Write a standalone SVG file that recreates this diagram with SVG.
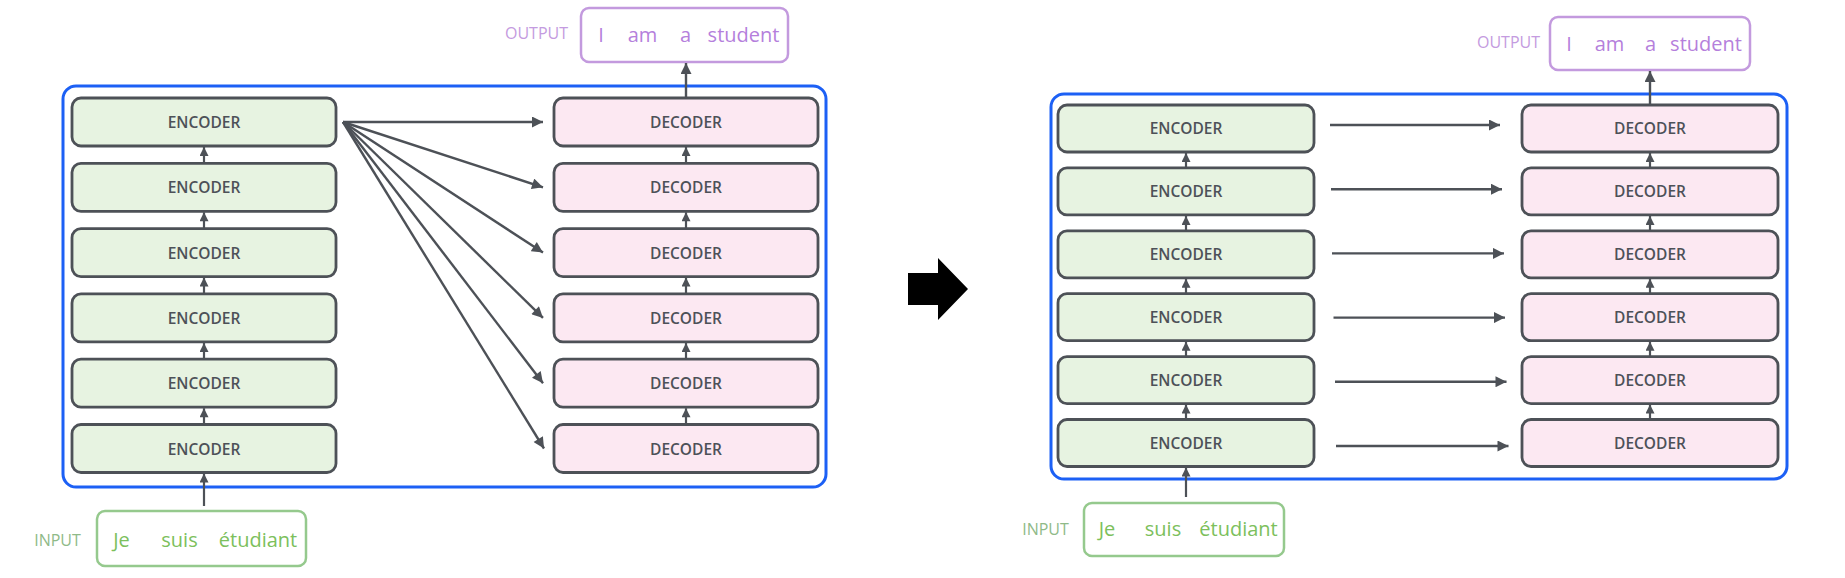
<svg xmlns="http://www.w3.org/2000/svg" width="1845" height="578" viewBox="0 0 1845 578">
<style>
.enc{fill:#e7f3e1;stroke:#4d5157;stroke-width:2.8}
.dec{fill:#fce8f2;stroke:#4d5157;stroke-width:2.8}
.lbl{font-family:"Open Sans","Liberation Sans",sans-serif;font-size:15.5px;font-weight:600;fill:#4d5158;text-anchor:middle}
.blue{fill:none;stroke:#1c60f5;stroke-width:3}
.outbox{fill:#fff;stroke:#c39ade;stroke-width:2.5}
.inbox{fill:#fff;stroke:#95c98d;stroke-width:2.5}
.outw{font-family:"Open Sans","Liberation Sans",sans-serif;font-size:20px;fill:#b57fdc;text-anchor:middle}
.inw{font-family:"Open Sans","Liberation Sans",sans-serif;font-size:20px;fill:#7cc05c;text-anchor:middle}
.outl{font-family:"Open Sans","Liberation Sans",sans-serif;font-size:16px;fill:#c49be0;text-anchor:middle}
.inl{font-family:"Open Sans","Liberation Sans",sans-serif;font-size:16px;fill:#8fba88;text-anchor:middle}
.c{stroke:#4d5157;stroke-width:2.4;fill:none}
.v{stroke:#4d5157;stroke-width:2.2;fill:none;marker-end:url(#sm)}
.h{stroke:#4d5157;stroke-width:2.4;fill:none;marker-end:url(#ah)}
</style>
<defs>
<marker id="ah" viewBox="0 0 10 10" refX="10" refY="5" markerUnits="userSpaceOnUse" markerWidth="12" markerHeight="11" orient="auto"><path d="M0,0 L10,5 L0,10 z" fill="#4d5157"/></marker>
<marker id="sm" viewBox="0 0 10 10" refX="10" refY="5" markerUnits="userSpaceOnUse" markerWidth="10" markerHeight="9" orient="auto"><path d="M0,0 L10,5 L0,10 z" fill="#4d5157"/></marker>
</defs>

<!-- LEFT DIAGRAM -->
<g id="left-container"><rect class="blue" x="63" y="86" width="763" height="401" rx="13"/></g>

<g id="left-output"><rect class="outbox" x="581" y="8" width="207" height="54" rx="8"/>
<text class="outl" x="536.5" y="39">OUTPUT</text>
<text class="outw" x="601" y="42">I</text><text class="outw" x="642.5" y="42">am</text><text class="outw" x="685.5" y="42">a</text><text class="outw" x="743.5" y="42">student</text></g>

<g id="left-input"><rect class="inbox" x="97" y="511" width="209" height="55" rx="8"/>
<text class="inl" x="57.5" y="546">INPUT</text>
<text class="inw" x="121.5" y="547">Je</text><text class="inw" x="179.5" y="547">suis</text><text class="inw" x="258" y="547">étudiant</text></g>

<g id="left-enc1"><rect class="enc" x="72" y="98" width="264" height="48" rx="9"/><text class="lbl" x="204" y="128">ENCODER</text></g>
<g id="left-enc2"><rect class="enc" x="72" y="163.3" width="264" height="48" rx="9"/><text class="lbl" x="204" y="193.3">ENCODER</text></g>
<g id="left-enc3"><rect class="enc" x="72" y="228.6" width="264" height="48" rx="9"/><text class="lbl" x="204" y="258.6">ENCODER</text></g>
<g id="left-enc4"><rect class="enc" x="72" y="293.9" width="264" height="48" rx="9"/><text class="lbl" x="204" y="323.9">ENCODER</text></g>
<g id="left-enc5"><rect class="enc" x="72" y="359.2" width="264" height="48" rx="9"/><text class="lbl" x="204" y="389.2">ENCODER</text></g>
<g id="left-enc6"><rect class="enc" x="72" y="424.5" width="264" height="48" rx="9"/><text class="lbl" x="204" y="454.5">ENCODER</text></g>

<g id="left-dec1"><rect class="dec" x="554" y="98" width="264" height="48" rx="9"/><text class="lbl" x="686" y="128">DECODER</text></g>
<g id="left-dec2"><rect class="dec" x="554" y="163.3" width="264" height="48" rx="9"/><text class="lbl" x="686" y="193.3">DECODER</text></g>
<g id="left-dec3"><rect class="dec" x="554" y="228.6" width="264" height="48" rx="9"/><text class="lbl" x="686" y="258.6">DECODER</text></g>
<g id="left-dec4"><rect class="dec" x="554" y="293.9" width="264" height="48" rx="9"/><text class="lbl" x="686" y="323.9">DECODER</text></g>
<g id="left-dec5"><rect class="dec" x="554" y="359.2" width="264" height="48" rx="9"/><text class="lbl" x="686" y="389.2">DECODER</text></g>
<g id="left-dec6"><rect class="dec" x="554" y="424.5" width="264" height="48" rx="9"/><text class="lbl" x="686" y="454.5">DECODER</text></g>

<g id="left-connectors">
<line class="v" x1="204" y1="506" x2="204" y2="473.5"/>
<line class="v" x1="204" y1="424.5" x2="204" y2="408.2"/>
<line class="v" x1="204" y1="359.2" x2="204" y2="342.9"/>
<line class="v" x1="204" y1="293.9" x2="204" y2="277.6"/>
<line class="v" x1="204" y1="228.6" x2="204" y2="212.3"/>
<line class="v" x1="204" y1="163.3" x2="204" y2="147"/>
<line class="v" x1="686" y1="424.5" x2="686" y2="408.2"/>
<line class="v" x1="686" y1="359.2" x2="686" y2="342.9"/>
<line class="v" x1="686" y1="293.9" x2="686" y2="277.6"/>
<line class="v" x1="686" y1="228.6" x2="686" y2="212.3"/>
<line class="v" x1="686" y1="163.3" x2="686" y2="147"/>
<line class="h" x1="686" y1="98" x2="686" y2="63"/>
<line class="h" x1="343" y1="122" x2="543" y2="122"/>
<line class="h" x1="343" y1="122" x2="543" y2="187.3"/>
<line class="h" x1="343" y1="122" x2="543" y2="252.6"/>
<line class="h" x1="343" y1="122" x2="543" y2="317.9"/>
<line class="h" x1="343" y1="122" x2="543" y2="383.2"/>
<line class="h" x1="343" y1="122" x2="544" y2="448.5"/>
</g>

<!-- CENTER ARROW -->
<g id="transition-arrow"><polygon points="908,273 938,273 938,258 968,289 938,320 938,305 908,305" fill="#000"/></g>

<!-- RIGHT DIAGRAM -->
<g id="right-container"><rect class="blue" x="1051" y="94" width="736" height="385" rx="13"/></g>

<g id="right-output"><rect class="outbox" x="1550" y="17" width="200" height="53" rx="8"/>
<text class="outl" x="1508.5" y="48">OUTPUT</text>
<text class="outw" x="1569" y="51">I</text><text class="outw" x="1609.5" y="51">am</text><text class="outw" x="1650.5" y="51">a</text><text class="outw" x="1706" y="51">student</text></g>

<g id="right-input"><rect class="inbox" x="1084" y="503" width="200" height="53" rx="8"/>
<text class="inl" x="1045.5" y="535">INPUT</text>
<text class="inw" x="1107" y="536">Je</text><text class="inw" x="1163" y="536">suis</text><text class="inw" x="1238.5" y="536">étudiant</text></g>

<g id="right-enc1"><rect class="enc" x="1058" y="105" width="256" height="47" rx="9"/><text class="lbl" x="1186" y="134">ENCODER</text></g>
<g id="right-enc2"><rect class="enc" x="1058" y="167.9" width="256" height="47" rx="9"/><text class="lbl" x="1186" y="196.9">ENCODER</text></g>
<g id="right-enc3"><rect class="enc" x="1058" y="230.8" width="256" height="47" rx="9"/><text class="lbl" x="1186" y="259.8">ENCODER</text></g>
<g id="right-enc4"><rect class="enc" x="1058" y="293.7" width="256" height="47" rx="9"/><text class="lbl" x="1186" y="322.7">ENCODER</text></g>
<g id="right-enc5"><rect class="enc" x="1058" y="356.6" width="256" height="47" rx="9"/><text class="lbl" x="1186" y="385.6">ENCODER</text></g>
<g id="right-enc6"><rect class="enc" x="1058" y="419.5" width="256" height="47" rx="9"/><text class="lbl" x="1186" y="448.5">ENCODER</text></g>

<g id="right-dec1"><rect class="dec" x="1522" y="105" width="256" height="47" rx="9"/><text class="lbl" x="1650" y="134">DECODER</text></g>
<g id="right-dec2"><rect class="dec" x="1522" y="167.9" width="256" height="47" rx="9"/><text class="lbl" x="1650" y="196.9">DECODER</text></g>
<g id="right-dec3"><rect class="dec" x="1522" y="230.8" width="256" height="47" rx="9"/><text class="lbl" x="1650" y="259.8">DECODER</text></g>
<g id="right-dec4"><rect class="dec" x="1522" y="293.7" width="256" height="47" rx="9"/><text class="lbl" x="1650" y="322.7">DECODER</text></g>
<g id="right-dec5"><rect class="dec" x="1522" y="356.6" width="256" height="47" rx="9"/><text class="lbl" x="1650" y="385.6">DECODER</text></g>
<g id="right-dec6"><rect class="dec" x="1522" y="419.5" width="256" height="47" rx="9"/><text class="lbl" x="1650" y="448.5">DECODER</text></g>

<g id="right-connectors">
<line class="v" x1="1186" y1="497" x2="1186" y2="467.5"/>
<line class="v" x1="1186" y1="419.5" x2="1186" y2="404.6"/>
<line class="v" x1="1186" y1="356.6" x2="1186" y2="341.7"/>
<line class="v" x1="1186" y1="293.7" x2="1186" y2="278.8"/>
<line class="v" x1="1186" y1="230.8" x2="1186" y2="215.9"/>
<line class="v" x1="1186" y1="167.9" x2="1186" y2="153"/>
<line class="v" x1="1650" y1="419.5" x2="1650" y2="404.6"/>
<line class="v" x1="1650" y1="356.6" x2="1650" y2="341.7"/>
<line class="v" x1="1650" y1="293.7" x2="1650" y2="278.8"/>
<line class="v" x1="1650" y1="230.8" x2="1650" y2="215.9"/>
<line class="v" x1="1650" y1="167.9" x2="1650" y2="153"/>
<line class="h" x1="1650" y1="105" x2="1650" y2="71"/>
<line class="h" x1="1330" y1="125" x2="1500" y2="125"/>
<line class="h" x1="1331" y1="189.2" x2="1502" y2="189.2"/>
<line class="h" x1="1332" y1="253.4" x2="1504" y2="253.4"/>
<line class="h" x1="1333.5" y1="317.6" x2="1505" y2="317.6"/>
<line class="h" x1="1335" y1="381.8" x2="1506.5" y2="381.8"/>
<line class="h" x1="1336" y1="446" x2="1508.5" y2="446"/>
</g>
</svg>
